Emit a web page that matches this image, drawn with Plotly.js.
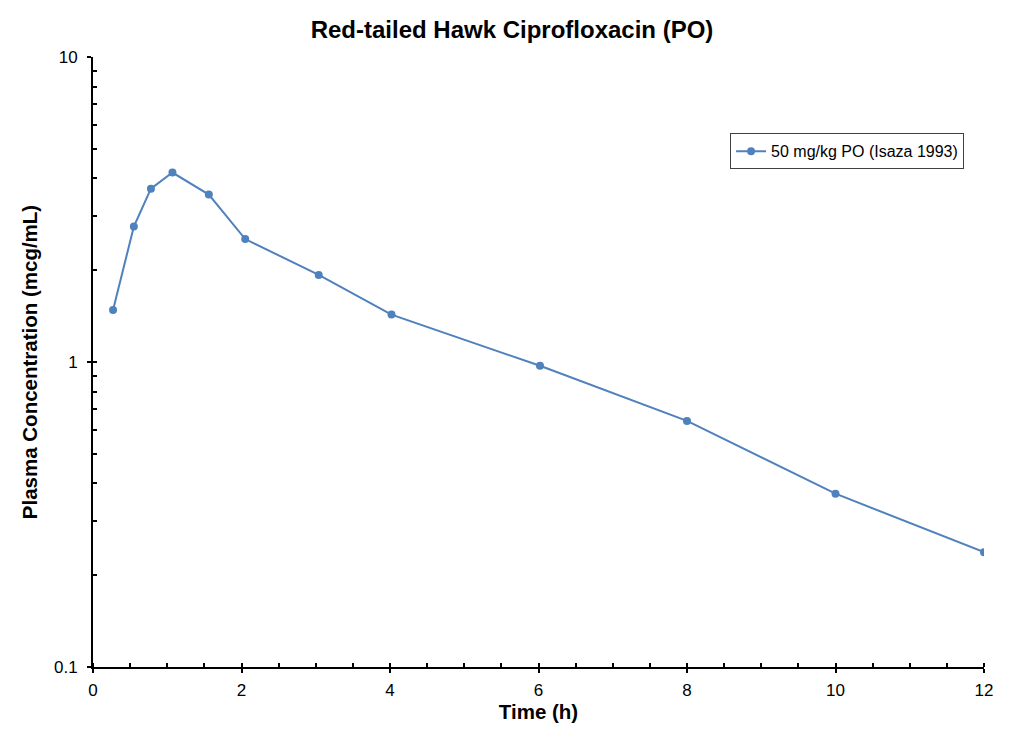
<!DOCTYPE html>
<html>
<head>
<meta charset="utf-8">
<script src="https://cdn.plot.ly/plotly-3.0.1.min.js"></script>
<style>
html,body{margin:0;padding:0;background:#fff;}
#chart{width:1024px;height:743px;outline:1px solid #d0d0d0;outline-offset:-1px;}
</style>
</head>
<body>
<div id="chart"></div>
<script>
const timeH = [0.27, 0.55, 0.78, 1.07, 1.56, 2.05, 3.04, 4.02, 6.02, 8.0, 10.0, 12.0];
const conc = [1.48, 2.78, 3.70, 4.18, 3.54, 2.53, 1.93, 1.43, 0.972, 0.641, 0.370, 0.238];
const seriesName = '50 mg/kg PO (Isaza 1993)';
const yTickVals = [0.1, 1, 10];
const yTickText = ['0.1', '1', '10'];
const xTickVals = [0, 2, 4, 6, 8, 10, 12];
const yMinorVals = [0.2,0.3,0.4,0.5,0.6,0.7,0.8,0.9,2,3,4,5,6,7,8,9];

const trace = {
  x: timeH, y: conc, name: seriesName, type: 'scatter', mode: 'lines+markers',
  line: {color: '#4f81bd', width: 2},
  marker: {color: '#4f81bd', size: 8},
  showlegend: true
};
// invisible helper trace so the inner halves of the crossing major ticks are drawn
const helper = {
  x: [timeH[0]], y: [conc[0]], xaxis: 'x2', yaxis: 'y2', type: 'scatter', mode: 'markers',
  marker: {opacity: 0}, showlegend: false, hoverinfo: 'skip'
};

const layout = {
  width: 1024, height: 743,
  margin: {l: 93, r: 40, t: 57, b: 76},
  paper_bgcolor: '#ffffff', plot_bgcolor: '#ffffff',
  font: {family: 'Liberation Sans, Arial, sans-serif', color: '#000', size: 16},
  title: {text: '<b>Red-tailed Hawk Ciprofloxacin (PO)</b>', font: {size: 24}, x: 0.5, xanchor: 'center', y: 0.96, yanchor: 'middle'},
  xaxis: {
    range: [0, 12], tickvals: xTickVals, ticks: 'outside', ticklen: 4, tickwidth: 2, tickcolor: '#000',
    showline: true, linecolor: '#000', linewidth: 2, showgrid: false, zeroline: false,
    tickfont: {size: 17}, ticklabelstandoff: 3,
    minor: {dtick: 0.5, ticks: 'inside', ticklen: 4, tickwidth: 2, tickcolor: '#000', showgrid: false},
    title: {text: '<b>Time (h)</b>', font: {size: 20.5}, standoff: 5}
  },
  yaxis: {
    type: 'log', range: [-1, 1], tickvals: yTickVals, ticktext: yTickText,
    ticks: 'outside', ticklen: 4, tickwidth: 2, tickcolor: '#000',
    showline: true, linecolor: '#000', linewidth: 2, showgrid: false, zeroline: false,
    tickfont: {size: 17}, ticklabelstandoff: 6,
    minor: {tickvals: yMinorVals, ticks: 'inside', ticklen: 4, tickwidth: 2, tickcolor: '#000', showgrid: false},
    title: {text: '<b>Plasma Concentration (mcg/mL)</b>', font: {size: 20.5}, standoff: 11}
  },
  xaxis2: {
    overlaying: 'x', anchor: 'y2', side: 'bottom', range: [0, 12], tickvals: xTickVals,
    ticks: 'inside', ticklen: 4, tickwidth: 2, tickcolor: '#000', showticklabels: false,
    showline: false, showgrid: false, zeroline: false
  },
  yaxis2: {
    overlaying: 'y', anchor: 'x2', side: 'left', type: 'log', range: [-1, 1], tickvals: yTickVals,
    ticks: 'inside', ticklen: 4, tickwidth: 2, tickcolor: '#000', showticklabels: false,
    showline: false, showgrid: false, zeroline: false
  },
  legend: {
    x: 0.715, y: 0.875, xanchor: 'left', yanchor: 'top',
    bgcolor: '#fff', bordercolor: '#404040', borderwidth: 1,
    font: {size: 16}, itemwidth: 30
  }
};

Plotly.newPlot('chart', [trace, helper], layout, {displayModeBar: false, staticPlot: true});
</script>
</body>
</html>
